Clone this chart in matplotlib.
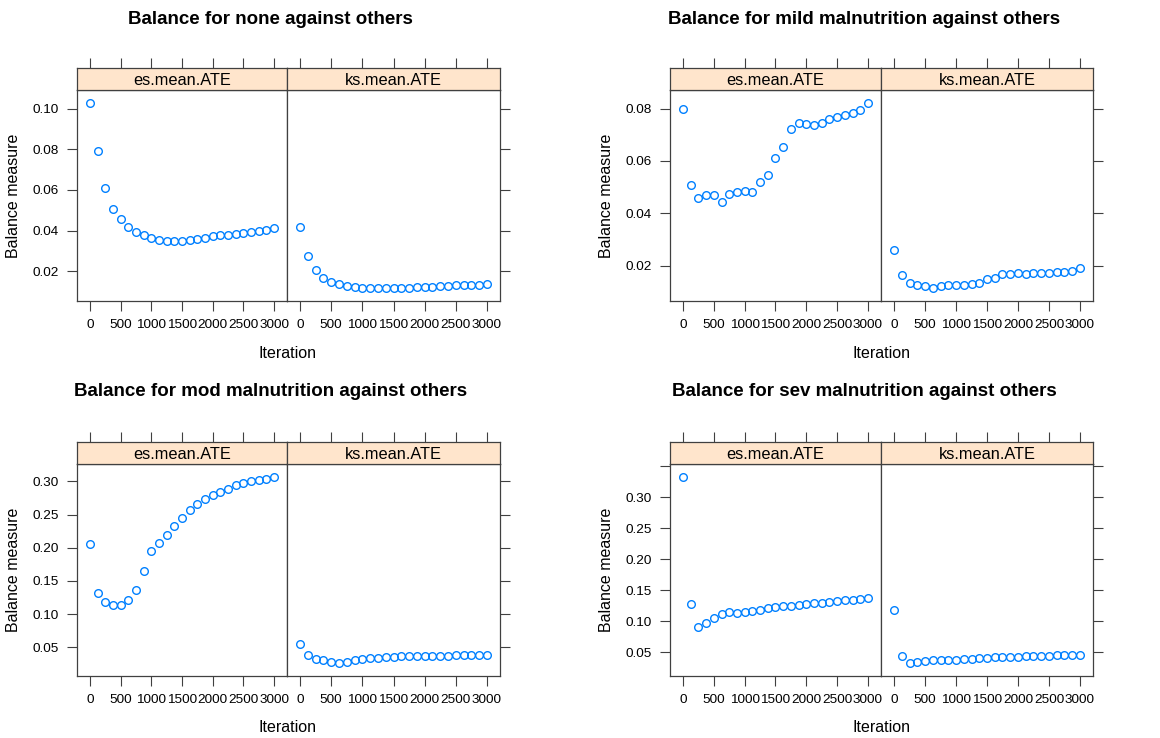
import numpy as np
import matplotlib
matplotlib.use("Agg")
import matplotlib.pyplot as plt

plt.rcParams['font.family'] = ['Liberation Sans', 'DejaVu Sans']

iterations = np.arange(0, 3001, 125)
strip_names = ["es.mean.ATE", "ks.mean.ATE"]
titles = ["Balance for none against others",
          "Balance for mild malnutrition against others",
          "Balance for mod malnutrition against others",
          "Balance for sev malnutrition against others"]

none_es = [0.1028, 0.0790, 0.0609, 0.0507, 0.0456, 0.0419, 0.0394, 0.0376, 0.0363,
           0.0353, 0.0347, 0.0348, 0.0350, 0.0353, 0.0357, 0.0365, 0.0373, 0.0376,
           0.0378, 0.0381, 0.0386, 0.0391, 0.0397, 0.0402, 0.0413]
none_ks = [0.0415, 0.0273, 0.0205, 0.0164, 0.0148, 0.0135, 0.0127, 0.0122, 0.0119,
           0.0117, 0.0117, 0.0117, 0.0117, 0.0119, 0.0119, 0.0120, 0.0122, 0.0124,
           0.0127, 0.0127, 0.0130, 0.0130, 0.0132, 0.0133, 0.0135]
mild_es = [0.0800, 0.0508, 0.0457, 0.0471, 0.0470, 0.0444, 0.0474, 0.0482, 0.0484,
           0.0483, 0.0521, 0.0545, 0.0611, 0.0655, 0.0723, 0.0747, 0.0743, 0.0738,
           0.0745, 0.0759, 0.0768, 0.0776, 0.0782, 0.0795, 0.0822]
mild_ks = [0.0261, 0.0163, 0.0135, 0.0127, 0.0120, 0.0114, 0.0123, 0.0125, 0.0124,
           0.0124, 0.0130, 0.0134, 0.0147, 0.0154, 0.0166, 0.0168, 0.0171, 0.0168,
           0.0170, 0.0172, 0.0173, 0.0176, 0.0177, 0.0180, 0.0189]
mod_es = [0.2058, 0.1316, 0.1186, 0.1131, 0.1136, 0.1216, 0.1371, 0.1647, 0.1947,
          0.2068, 0.2193, 0.2329, 0.2449, 0.2564, 0.2664, 0.2735, 0.2800, 0.2845,
          0.2890, 0.2940, 0.2980, 0.3010, 0.3020, 0.3035, 0.3065]
mod_ks = [0.0550, 0.0380, 0.0330, 0.0315, 0.0280, 0.0265, 0.0275, 0.0310, 0.0330,
          0.0340, 0.0345, 0.0355, 0.0355, 0.0365, 0.0365, 0.0365, 0.0370, 0.0375,
          0.0375, 0.0375, 0.0380, 0.0380, 0.0385, 0.0385, 0.0390]
sev_es = [0.3328, 0.1280, 0.0909, 0.0978, 0.1048, 0.1124, 0.1151, 0.1129, 0.1145,
          0.1167, 0.1183, 0.1210, 0.1231, 0.1247, 0.1253, 0.1269, 0.1280, 0.1290,
          0.1296, 0.1306, 0.1323, 0.1339, 0.1350, 0.1366, 0.1382]
sev_ks = [0.1188, 0.0446, 0.0328, 0.0339, 0.0360, 0.0382, 0.0376, 0.0371, 0.0382,
          0.0392, 0.0398, 0.0403, 0.0409, 0.0419, 0.0419, 0.0425, 0.0430, 0.0435,
          0.0435, 0.0441, 0.0441, 0.0452, 0.0452, 0.0457, 0.0462]

series = [(none_es, none_ks), (mild_es, mild_ks), (mod_es, mod_ks), (sev_es, sev_ks)]
yticks = [np.arange(0.02, 0.101, 0.02), np.arange(0.02, 0.081, 0.02),
          np.arange(0.05, 0.301, 0.05), np.arange(0.05, 0.351, 0.05)]
xticks = np.arange(0, 3001, 500)

W, H = 1160, 738
fig = plt.figure(figsize=(W / 100, H / 100), dpi=100)

def box(x0, y0, x1, y1):
    return [x0 / W, 1 - y1 / H, (x1 - x0) / W, (y1 - y0) / H]

# pixel layout of the quadrants: (left, mid, right), (strip top, panel top, panel bottom)
cols = [(77, 287, 500), (670, 881, 1093)]
rows = [(68, 90, 301), (442, 464, 676)]
title_pos = [(270, 20), (864, 20), (271, 391), (864, 391)]

frame = '0.25'
blue = '#0080ff'
xpad = 0.07 * 3000
tick_fs = 9.7

for k in range(4):
    r, c = divmod(k, 2)
    left, mid, right = cols[c]
    stop, ptop, pbot = rows[r]
    es, ks = series[k]
    lo = min(min(es), min(ks))
    hi = max(max(es), max(ks))
    pad = 0.07 * (hi - lo)
    ylim = (lo - pad, hi + pad)

    fig.text(title_pos[k][0] / W, 1 - title_pos[k][1] / H, titles[k],
             ha='center', va='center', fontsize=13.5, fontweight='bold')

    for j, (x0, x1) in enumerate([(left, mid), (mid, right)]):
        ax = fig.add_axes(box(x0, ptop, x1, pbot))
        vals = [es, ks][j]
        ax.plot(iterations, vals, 'o', mfc='none', mec=blue, ms=5.5, mew=1.0)
        ax.set_xlim(-xpad, 3000 + xpad)
        ax.set_ylim(*ylim)
        ax.set_xticks(xticks)
        ax.set_xticklabels([str(v) for v in xticks], fontsize=tick_fs)
        ax.set_yticks(yticks[k])
        labels = ["%.2f" % v for v in yticks[k]]
        if k == 3:
            labels[-1] = ''
        ax.set_yticklabels(labels, fontsize=tick_fs)
        ax.tick_params(direction='out', length=7, width=0.8, color=frame, pad=6)
        if j == 0:
            ax.tick_params(left=True, right=False, labelleft=True)
            ax.set_ylabel("Balance measure", fontsize=11.5, labelpad=8)
        else:
            ax.tick_params(left=False, right=True, labelleft=False, labelright=False)
        for s in ax.spines.values():
            s.set_color(frame)
            s.set_linewidth(0.9)

        st = fig.add_axes(box(x0, stop, x1, ptop))
        st.set_facecolor('#ffe5cc')
        st.set_xlim(-xpad, 3000 + xpad)
        st.set_xticks(xticks)
        st.set_yticks([])
        st.tick_params(axis='x', bottom=False, labelbottom=False, top=True,
                       direction='out', length=7, width=0.8, color=frame)
        for s in st.spines.values():
            s.set_color(frame)
            s.set_linewidth(0.9)
        st.text(0.5, 0.45, strip_names[j], transform=st.transAxes,
                ha='center', va='center', fontsize=11.8)

    fig.text(mid / W, 1 - (pbot + 52) / H, "Iteration", ha='center', va='center',
             fontsize=11.5)

fig.savefig("out.png", dpi=100)
